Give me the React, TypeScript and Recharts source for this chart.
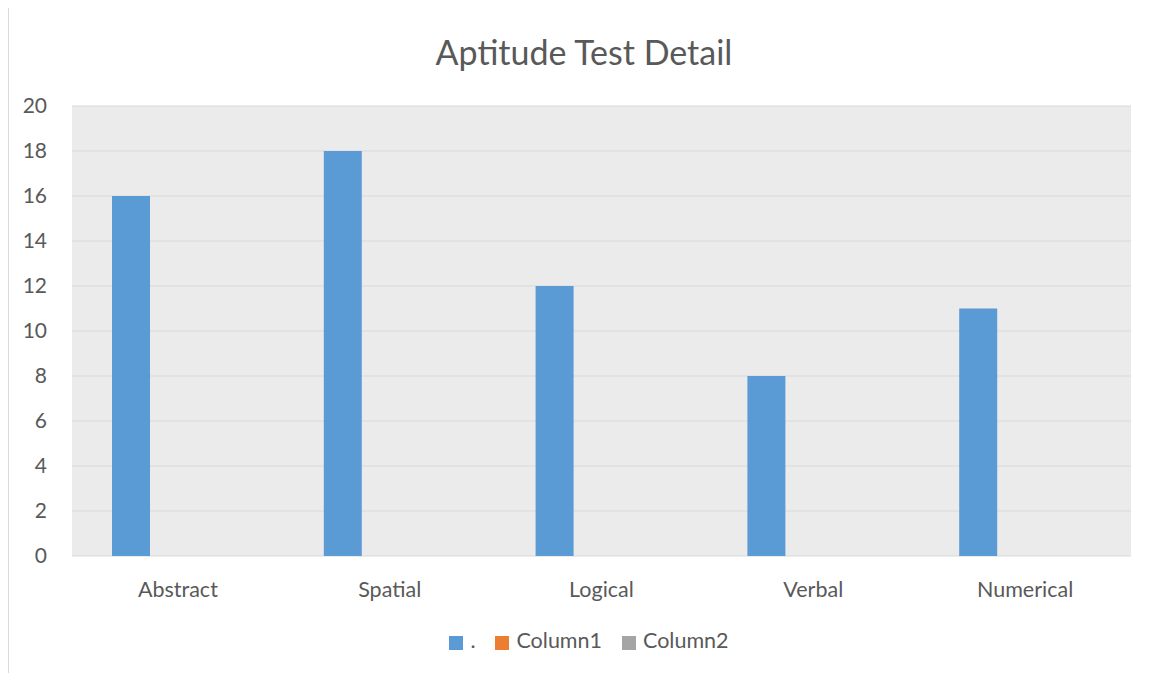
import React from 'react';
import { BarChart, Bar, XAxis, YAxis, CartesianGrid, Legend } from 'recharts';

const categories = ['Abstract', 'Spatial', 'Logical', 'Verbal', 'Numerical'];
const dotSeries = [16, 18, 12, 8, 11];
const column1 = [null, null, null, null, null];
const column2 = [null, null, null, null, null];
const yTicks = [0, 2, 4, 6, 8, 10, 12, 14, 16, 18, 20];

const data = categories.map((name, i) => ({
  name,
  dot: dotSeries[i],
  column1: column1[i],
  column2: column2[i],
}));

const FONT = 'Lato, "Open Sans", sans-serif';
const TEXT = '#595959';

const App = () => {
  return (
    <div
      style={{
        position: 'relative',
        width: 1180,
        height: 680,
        marginTop: -1,
        border: '1px solid #D9D9D9',
        fontFamily: FONT,
        background: '#fff',
      }}
    >
      <div
        style={{
          position: 'absolute',
          left: 0,
          width: 1150,
          top: 23,
          textAlign: 'center',
          fontSize: 34,
          color: TEXT,
        }}
      >
        Aptitude Test Detail
      </div>
      <BarChart
        width={1180}
        height={680}
        data={data}
        margin={{ top: 98, right: 58, left: 0, bottom: 46 }}
        barCategoryGap={40}
        barGap={9}
      >
        <CartesianGrid vertical={false} stroke="#D9D9D9" fill="#EBEBEB" />
        <XAxis
          dataKey="name"
          axisLine={false}
          tickLine={false}
          tickSize={0}
          tickMargin={26}
          height={60}
          tick={{ fill: TEXT, fontSize: 21.5, fontFamily: FONT }}
        />
        <YAxis
          domain={[0, 20]}
          ticks={yTicks}
          axisLine={false}
          tickLine={false}
          tickSize={0}
          tickMargin={25}
          width={63}
          tick={{ fill: TEXT, fontSize: 21, fontFamily: FONT }}
        />
        <Legend
          verticalAlign="bottom"
          iconType="square"
          iconSize={14}
          wrapperStyle={{ top: 619, left: 0, width: 1180, fontSize: 21.5, fontFamily: FONT }}
          formatter={(value) => (
            <span style={{ color: TEXT, marginLeft: 3, marginRight: 10 }}>{value}</span>
          )}
        />
        <Bar dataKey="dot" name="." fill="#5B9BD5" barSize={38} isAnimationActive={false} />
        <Bar dataKey="column1" name="Column1" fill="#ED7D31" barSize={38} isAnimationActive={false} />
        <Bar dataKey="column2" name="Column2" fill="#A5A5A5" barSize={38} isAnimationActive={false} />
      </BarChart>
    </div>
  );
};

export default App;
